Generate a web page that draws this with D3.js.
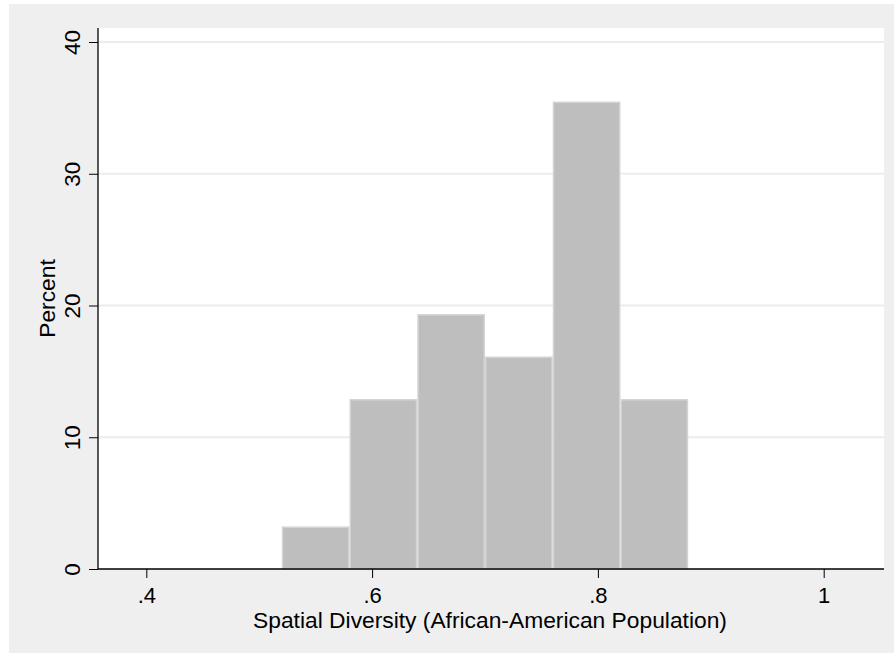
<!DOCTYPE html>
<html>
<head>
<meta charset="utf-8">
<script src="https://cdn.jsdelivr.net/npm/d3@7"></script>
<style>
  html, body { margin: 0; padding: 0; background: #ffffff; }
  svg { display: block; }
  text { font-family: "Liberation Sans", Arial, sans-serif; fill: #000; }
</style>
</head>
<body>
<svg id="chart" width="894" height="653"></svg>
<script>
// Histogram bins (lower edge, upper edge) and percent of observations
const binStarts = [0.52, 0.58, 0.64, 0.70, 0.76, 0.82];
const binEnds   = [0.58, 0.64, 0.70, 0.76, 0.82, 0.88];
const percents  = [3.23, 12.90, 19.35, 16.13, 35.48, 12.90];

const xTicks = [0.4, 0.6, 0.8, 1];
const xTickLabels = [".4", ".6", ".8", "1"];
const yTicks = [0, 10, 20, 30, 40];
const yGrid = [10, 20, 30, 40];

const xTitle = "Spatial Diversity (African-American Population)";
const yTitle = "Percent";

const svg = d3.select("#chart");

// Plot region bounds
const plotLeft = 98, plotRight = 884, plotTop = 28, plotBottom = 569;
const tickFont = 22, titleFont = 22.8;

const x = d3.scaleLinear().domain([0.4, 1]).range([146.3, 823.7]);
const y = d3.scaleLinear().domain([0, 40]).range([plotBottom, 42]);

// Outer graph region
svg.append("rect")
  .attr("x", 9).attr("y", 4)
  .attr("width", 885).attr("height", 649)
  .attr("fill", "#efefef");

// Inner plot region
svg.append("rect")
  .attr("x", plotLeft).attr("y", plotTop)
  .attr("width", plotRight - plotLeft).attr("height", plotBottom - plotTop)
  .attr("fill", "#ffffff");

// Horizontal gridlines
svg.append("g").selectAll("line")
  .data(yGrid)
  .join("line")
  .attr("x1", plotLeft).attr("x2", plotRight)
  .attr("y1", d => y(d)).attr("y2", d => y(d))
  .attr("stroke", "#ececec")
  .attr("stroke-width", 2);

// Bars
const bins = binStarts.map((s, i) => ({ x0: s, x1: binEnds[i], v: percents[i] }));
svg.append("g").selectAll("rect")
  .data(bins)
  .join("rect")
  .attr("x", d => x(d.x0) + 0.75)
  .attr("width", d => x(d.x1) - x(d.x0) - 1.5)
  .attr("y", d => y(d.v) + 0.75)
  .attr("height", d => y(0) - y(d.v) - 0.75)
  .attr("fill", "#bebebe")
  .attr("stroke", "#d4d4d4")
  .attr("stroke-width", 1.5);

// Y axis
const yAxis = svg.append("g")
  .attr("transform", `translate(${plotLeft},0)`)
  .call(d3.axisLeft(y).tickValues(yTicks).tickSize(9).tickFormat(d3.format("d")));
yAxis.select(".domain")
  .attr("d", `M0,${plotTop}V${plotBottom}`)
  .attr("stroke", "#000").attr("stroke-width", 1.3);
yAxis.selectAll(".tick line").attr("stroke", "#000").attr("stroke-width", 1);
yAxis.selectAll(".tick text")
  .attr("font-size", tickFont + 0.5)
  .attr("font-family", "Liberation Sans, Arial, sans-serif")
  .attr("text-anchor", "middle")
  .attr("x", 0).attr("dy", 0)
  .attr("transform", "translate(-18,0) rotate(-90)");

// X axis
const xAxis = svg.append("g")
  .attr("transform", `translate(0,${plotBottom})`)
  .call(d3.axisBottom(x).tickValues(xTicks).tickSize(9)
    .tickFormat((d, i) => xTickLabels[i]));
xAxis.select(".domain")
  .attr("d", `M${plotLeft},0H${plotRight}`)
  .attr("stroke", "#000").attr("stroke-width", 1.3);
xAxis.selectAll(".tick line").attr("stroke", "#000").attr("stroke-width", 1);
xAxis.selectAll(".tick text")
  .attr("font-size", tickFont)
  .attr("font-family", "Liberation Sans, Arial, sans-serif")
  .attr("y", 33.5).attr("dy", 0);

// Axis titles
svg.append("text")
  .attr("x", (plotLeft + plotRight) / 2 - 1)
  .attr("y", 628)
  .attr("text-anchor", "middle")
  .attr("font-size", titleFont)
  .text(xTitle);

svg.append("text")
  .attr("transform", `translate(55,${(plotTop + plotBottom) / 2}) rotate(-90)`)
  .attr("text-anchor", "middle")
  .attr("font-size", titleFont)
  .text(yTitle);
</script>
</body>
</html>
